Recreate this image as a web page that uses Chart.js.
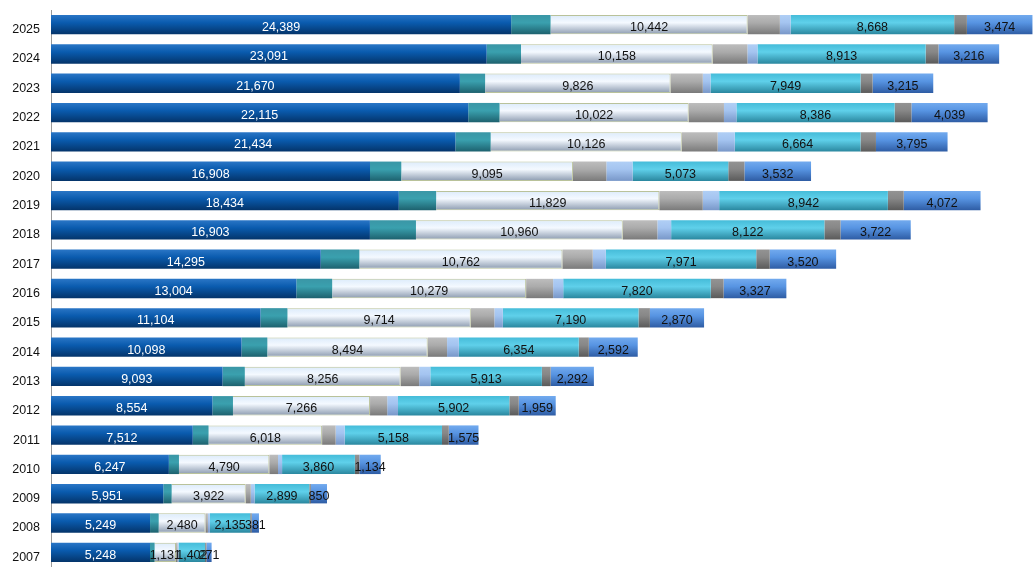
<!DOCTYPE html>
<html>
<head>
<meta charset="utf-8">
<script src="https://cdn.jsdelivr.net/npm/chart.js@4/dist/chart.umd.min.js"></script>
<style>
  html, body { margin: 0; padding: 0; background: #fff; }
  #wrap { width: 1034px; height: 567px; }
</style>
</head>
<body>
<div id="wrap"><canvas id="chart"></canvas></div>
<script>
// Years, top to bottom
const years = ['2025','2024','2023','2022','2021','2020','2019','2018','2017','2016',
               '2015','2014','2013','2012','2011','2010','2009','2008','2007'];

// Labelled series
const darkBlue = [24389, 23091, 21670, 22115, 21434, 16908, 18434, 16903, 14295, 13004,
                  11104, 10098, 9093, 8554, 7512, 6247, 5951, 5249, 5248];
const whiteSeg = [10442, 10158, 9826, 10022, 10126, 9095, 11829, 10960, 10762, 10279,
                  9714, 8494, 8256, 7266, 6018, 4790, 3922, 2480, 1131];
const cyanSeg  = [8668, 8913, 7949, 8386, 6664, 5073, 8942, 8122, 7971, 7820,
                  7190, 6354, 5913, 5902, 5158, 3860, 2899, 2135, 1402];
const blueSeg  = [3474, 3216, 3215, 4039, 3795, 3532, 4072, 3722, 3520, 3327,
                  2870, 2592, 2292, 1959, 1575, 1134, 850, 381, 271];

// Unlabelled series
const tealSeg  = [2090, 1820, 1340, 1660, 1870, 1660, 1980, 2440, 2050, 1900,
                  1430, 1370, 1180, 1090, 840, 535, 445, 460, 245];
const graySeg  = [1710, 1840, 1710, 1870, 1900, 1770, 2300, 1835, 1605, 1430,
                  1250, 1030, 985, 910, 715, 460, 270, 125, 85];
const lightSeg = [570, 535, 410, 660, 910, 1390, 870, 730, 695, 535,
                  450, 625, 590, 570, 480, 215, 200, 107, 55];
const darkGray = [675, 680, 640, 890, 820, 855, 840, 855, 715, 680,
                  605, 535, 465, 500, 360, 235, 90, 85, 75];

const barPct = 0.66;

// vertical gloss gradient for every bar, built from the y scale
function gloss(top, mid, bottom) {
    return (c) => {
        const chart = c.chart;
        const y = chart.scales && chart.scales.y;
        if (!y || c.type !== 'data') return mid;
        const center = y.getPixelForValue(c.dataIndex);
        const half = (y.height / years.length) * barPct / 2;
        if (!isFinite(center) || !isFinite(half) || half <= 0) return mid;
        const g = chart.ctx.createLinearGradient(0, center - half, 0, center + half);
        g.addColorStop(0, top);
        g.addColorStop(0.4, mid);
        g.addColorStop(1, bottom);
        return g;
    };
}

const labelled = new Set(['darkBlue', 'white', 'cyan', 'blue']);

// draws the values in the middle of the labelled segments
const segLabels = {
    id: 'segLabels',
    afterDatasetsDraw(chart) {
        const ctx = chart.ctx;
        ctx.save();
        ctx.font = '12.5px "Liberation Sans", Arial, sans-serif';
        ctx.textAlign = 'center';
        ctx.textBaseline = 'middle';
        chart.data.datasets.forEach((ds, i) => {
            if (!labelled.has(ds.label)) return;
            ctx.fillStyle = ds.label === 'darkBlue' ? '#ffffff' : '#111111';
            chart.getDatasetMeta(i).data.forEach((bar, j) => {
                const p = bar.getCenterPoint();
                ctx.fillText(ds.data[j].toLocaleString('en-US'), p.x, p.y + 3);
            });
        });
        ctx.restore();
    }
};

new Chart(document.getElementById('chart'), {
    type: 'bar',
    data: {
        labels: years,
        datasets: [
            { label: 'darkBlue', data: darkBlue, backgroundColor: gloss('#2a76c6', '#0a5bae', '#04346a') },
            { label: 'teal', data: tealSeg, backgroundColor: gloss('#3a96a6', '#3aa0ae', '#1d616e') },
            { label: 'white', data: whiteSeg, backgroundColor: gloss('#dcebfb', '#f4f9ff', '#8c9bb0'),
              borderColor: '#b9c29a', borderWidth: 1 },
            { label: 'gray', data: graySeg, backgroundColor: gloss('#bdbdbd', '#ababab', '#7a7a7a') },
            { label: 'light', data: lightSeg, backgroundColor: gloss('#b0cff5', '#a4c4f0', '#7897c8') },
            { label: 'cyan', data: cyanSeg, backgroundColor: gloss('#45bcd9', '#5fd0ea', '#2a879f') },
            { label: 'darkGray', data: darkGray, backgroundColor: gloss('#939393', '#878787', '#5a5a5a') },
            { label: 'blue', data: blueSeg, backgroundColor: gloss('#72aaee', '#5794e2', '#2e5ca4') }
        ]
    },
    options: {
        indexAxis: 'y',
        responsive: true,
        maintainAspectRatio: false,
        animation: false,
        datasets: { bar: { barPercentage: barPct, categoryPercentage: 1 } },
        layout: { padding: { left: 0, top: 10, right: 0, bottom: 0 } },
        plugins: {
            legend: { display: false },
            tooltip: { enabled: false }
        },
        scales: {
            x: {
                stacked: true,
                display: false,
                min: 0,
                max: 52100
            },
            y: {
                stacked: true,
                grid: { display: false, drawTicks: false },
                border: { display: true, color: '#9a9a9a', width: 1 },
                ticks: {
                    color: '#111',
                    padding: 11,
                    labelOffset: 5,
                    font: { family: '"Liberation Sans", Arial, sans-serif', size: 12.5 }
                },
                afterFit(scale) {
                    scale.width = 51;
                    scale.paddingTop = 0;
                    scale.paddingBottom = 0;
                }
            }
        }
    },
    plugins: [segLabels]
});
</script>
</body>
</html>
